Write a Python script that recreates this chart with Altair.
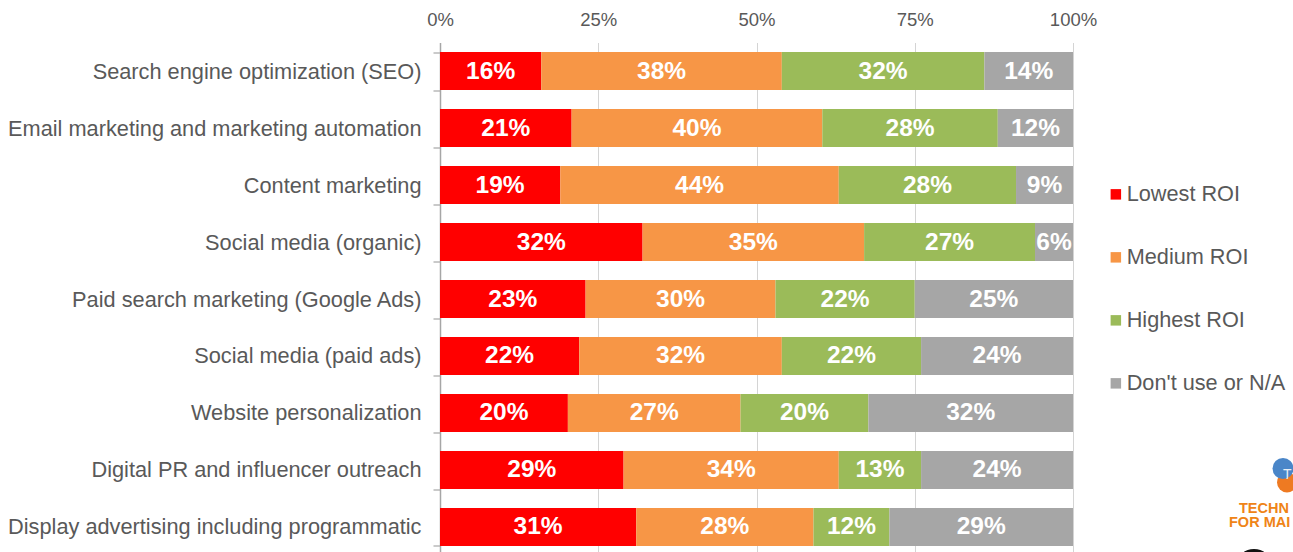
import altair as alt
import pandas as pd

categories = [
    "Search engine optimization (SEO)",
    "Email marketing and marketing automation",
    "Content marketing",
    "Social media (organic)",
    "Paid search marketing (Google Ads)",
    "Social media (paid ads)",
    "Website personalization",
    "Digital PR and influencer outreach",
    "Display advertising including programmatic",
]
series = ["Lowest ROI", "Medium ROI", "Highest ROI", "Don't use or N/A"]
colors = ["#ff0000", "#f79646", "#9bbb59", "#a6a6a6"]
lowest = [16, 21, 19, 32, 23, 22, 20, 29, 31]
medium = [38, 40, 44, 35, 30, 32, 27, 34, 28]
highest = [32, 28, 28, 27, 22, 22, 20, 13, 12]
unused = [14, 12, 9, 6, 25, 24, 32, 24, 29]

FONT = "Liberation Sans"
GREY = "#595959"

rows = []
for name, order, values in zip(series, range(4), [lowest, medium, highest, unused]):
    for cat, val in zip(categories, values):
        rows.append({"category": cat, "series": name, "order": order, "value": val})
df = pd.DataFrame(rows)

base = (
    alt.Chart(df)
    .transform_joinaggregate(total="sum(value)", groupby=["category"])
    .transform_stack(
        stack="value",
        as_=["s0", "s1"],
        groupby=["category"],
        sort=[alt.SortField("order", order="ascending")],
    )
    .transform_calculate(
        x0="datum.s0 / datum.total",
        x1="datum.s1 / datum.total",
        mid="(datum.s0 + datum.s1) / 2 / datum.total",
        label="datum.value + '%'",
    )
)

y_enc = alt.Y(
    "category:N",
    sort=categories,
    title=None,
    scale=alt.Scale(range=[0, 513], paddingInner=0.333, paddingOuter=0.1667),
    axis=alt.Axis(
        tickBand="extent",
        tickSize=7,
        tickColor="#a6a6a6",
        tickWidth=1.2,
        domainColor="#a6a6a6",
        domainWidth=1.5,
        labelFont=FONT,
        labelFontSize=21.75,
        labelColor=GREY,
        labelPadding=12,
        labelLimit=430,
        labelOffset=0,
        grid=False,
    ),
)
x_scale = alt.Scale(domain=[0, 1], nice=False, range=[0, 633])

bars = base.mark_bar(size=38).encode(
    x=alt.X(
        "x0:Q",
        scale=x_scale,
        title=None,
        axis=alt.Axis(
            orient="top",
            values=[0, 0.25, 0.5, 0.75, 1],
            format=".0%",
            domain=False,
            ticks=False,
            labelFont=FONT,
            labelFontSize=18.5,
            labelColor=GREY,
            labelPadding=13.5,
            labelFlush=False,
            grid=True,
            gridColor="#d4d4d4",
            gridWidth=1,
        ),
    ),
    x2="x1:Q",
    y=y_enc,
    color=alt.Color(
        "series:N",
        sort=series,
        scale=alt.Scale(domain=series, range=colors),
        legend=alt.Legend(
            title=None,
            orient="none",
            legendX=665,
            legendY=141,
            symbolType="square",
            symbolSize=110,
            symbolStrokeWidth=0,
            labelFont=FONT,
            labelFontSize=21.7,
            labelColor=GREY,
            labelOffset=0,
            rowPadding=40,
            labelLimit=220,
        ),
    ),
)

value_labels = base.mark_text(
    font=FONT, fontSize=24.5, fontWeight="bold", color="white", dy=0.5
).encode(
    x=alt.X("mid:Q", scale=x_scale),
    y=alt.Y("category:N", sort=categories),
    text="label:N",
)

# Publisher badge in the lower right corner
single = pd.DataFrame({"k": [0]})
orange_disc = alt.Chart(single).mark_point(
    filled=True, size=400, color="#ee7a22", shape="circle", opacity=1
).encode(x=alt.value(847), y=alt.value(440))
blue_disc = alt.Chart(single).mark_point(
    filled=True, size=440, color="#4a86c8", shape="circle", opacity=1
).encode(x=alt.value(843), y=alt.value(426))
badge_mark = alt.Chart(single).mark_text(
    text="T", font=FONT, fontSize=14, color="#e8eef5", align="left", baseline="alphabetic"
).encode(x=alt.value(843), y=alt.value(436))
badge_lines = pd.DataFrame({"line": ["TECHN", "FOR MAI"], "i": [0, 1]})
badge_text = alt.Chart(badge_lines).transform_calculate(
    px="datum.i == 0 ? 799 : 789", py="datum.i == 0 ? 470 : 484.5"
).mark_text(
    font=FONT, fontSize=14.5, fontWeight="bold", color="#ef8417",
    align="left", baseline="alphabetic",
).encode(
    x=alt.X("px:Q", scale=None), y=alt.Y("py:Q", scale=None), text="line:N"
)
badge_ring = alt.Chart(single).mark_point(
    filled=False, size=1256, color="#111111", strokeWidth=3.5, shape="circle", opacity=1
).encode(x=alt.value(814), y=alt.value(526))

chart = (
    alt.layer(bars, value_labels, orange_disc, blue_disc, badge_mark, badge_text, badge_ring)
    .resolve_scale(x="shared", y="shared")
    .properties(
        width=853,
        height=510,
        padding={"left": 440, "top": 42.5, "right": 0, "bottom": 0},
        autosize=alt.AutoSizeParams(type="none"),
        background="white",
    )
    .configure_view(stroke=None)
)

chart.save("out.html", embed_options={"renderer": "svg", "actions": False})
